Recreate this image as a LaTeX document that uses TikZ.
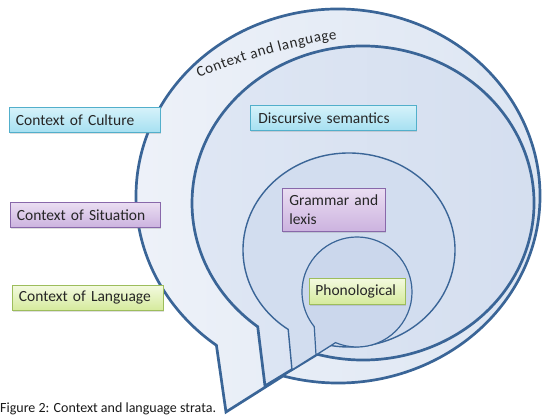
\documentclass[tikz,border=0pt]{standalone}
\usepackage{fontspec}
\setmainfont{Carlito}
\usetikzlibrary{decorations.text,shadows}
\definecolor{edgeblue}{HTML}{3A6597}
\definecolor{ringAl}{HTML}{EEF2F9}
\definecolor{ringAr}{HTML}{DCE5F2}
\definecolor{ringBl}{HTML}{DFE7F4}
\definecolor{ringBr}{HTML}{D4DEEF}
\definecolor{ringC}{HTML}{D2DDEF}
\definecolor{ringD}{HTML}{CBD7EC}
\definecolor{cyanT}{HTML}{D6F2FA}
\definecolor{cyanB}{HTML}{A6E0F1}
\definecolor{cyanE}{HTML}{52AFCB}
\definecolor{lilT}{HTML}{EADEF2}
\definecolor{lilB}{HTML}{CCB3DF}
\definecolor{lilE}{HTML}{8868AA}
\definecolor{grnT}{HTML}{F3FADF}
\definecolor{grnB}{HTML}{D5EA9C}
\definecolor{grnE}{HTML}{9DBD5C}
\newcommand\bxfont{\fontsize{15.5}{19}\selectfont}
\begin{document}
\begin{tikzpicture}[x=1pt,y=-1pt,
  bubthick/.style={draw=edgeblue, line width=2.7pt, line join=miter},
  bubthin/.style={draw=edgeblue, line width=1.4pt, line join=miter},
  lbl/.style={draw, line width=0.8pt, anchor=north west, inner xsep=6.5pt, inner ysep=2pt,
    align=left, font=\bxfont, text=black!85,
    drop shadow={shadow xshift=1pt, shadow yshift=-1.5pt, opacity=0.25}},
  cyanbox/.style={lbl, draw=cyanE, top color=cyanT, bottom color=cyanB},
  lilbox/.style={lbl, draw=lilE, top color=lilT, bottom color=lilB},
  grnbox/.style={lbl, draw=grnE, top color=grnT, bottom color=grnB}]
\useasboundingbox (0,0) rectangle (542,417);
% outer bubble: Context and language
\coordinate (tipA) at (226,412);
\path[bubthick, left color=ringAl, right color=ringAr]
  (tipA) -- ([shift={(338,196)}]105.8:202 and 187)
  arc[start angle=105.8, end angle=-233, x radius=202, y radius=187] -- cycle;
% second bubble: discursive semantics
\coordinate (tipB) at (265,386);
\path[bubthick, left color=ringBl, right color=ringBr]
  (tipB) -- ([shift={(363,203)}]105.5:171 and 157)
  arc[start angle=105.5, end angle=-232, x radius=171, y radius=157] -- cycle;
% third bubble: grammar and lexis
\coordinate (tipC) at (292,370);
\path[bubthin, fill=ringC]
  (tipC) -- ([shift={(349,250)}]100:106 and 97)
  arc[start angle=100, end angle=-235, x radius=106, y radius=97] -- cycle;
% fourth bubble: phonological
\coordinate (tipD) at (316,355);
\path[bubthin, line width=1.2pt, fill=ringD]
  (tipD) -- ([shift={(357,292)}]113:55 and 55)
  arc[start angle=113, end angle=-219, x radius=55, y radius=55] -- cycle;
% curved title
\path[decorate, decoration={text along path, text color=black!85,
   text={|\fontsize{15}{17}\selectfont|Context and language}, text align=fit to path}]
  (199,78) .. controls (240,61) and (290,46) .. (337,39);
% labels
\node[cyanbox, text width=138pt, minimum height=25pt] (cul) at (9,107) {Context of Culture};
\node[lilbox, text width=137pt, minimum height=25pt] (sit) at (10,202) {Context of Situation};
\node[grnbox, text width=138pt, minimum height=25pt] (lan) at (12,285) {Context of Language};
\node[cyanbox, inner xsep=8pt, text width=150pt, minimum height=25pt] (dis) at (250,105) {Discursive semantics};
\node[lilbox, inner xsep=7pt, text width=89pt, minimum height=43pt] (gram) at (282,188) {Grammar and\\lexis};
\node[grnbox, inner xsep=6pt, text width=84pt, minimum height=26pt] (pho) at (309,278) {Phonological};
% caption
\node[anchor=base west, inner sep=0pt, font=\fontsize{14}{16}\selectfont, text=black!90] (cap) at (0,413) {Figure 2: Context and language strata.};
\end{tikzpicture}
\end{document}
